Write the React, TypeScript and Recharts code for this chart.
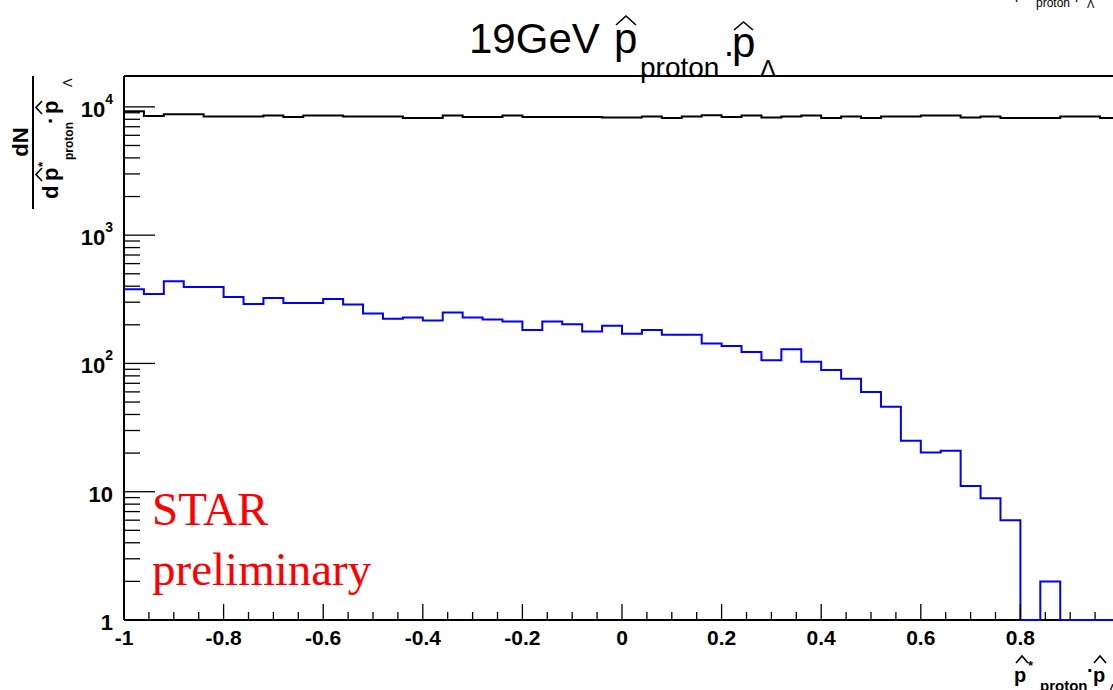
import React from 'react';
import { LineChart, Line, XAxis, YAxis, CartesianGrid } from 'recharts';

// histogram binning: 50 bins of 0.04 from -1 to 1
const X_MIN = -1;
const X_MAX = 1;
const BIN_WIDTH = 0.04;

// counts per bin (log scale)
const allCounts = [
  9250, 8500, 8770, 8770, 8400, 8400, 8400, 8550, 8350, 8550,
  8550, 8400, 8400, 8400, 8200, 8200, 8550, 8350, 8350, 8550,
  8350, 8350, 8350, 8350, 8250, 8250, 8400, 8200, 8400, 8620,
  8350, 8550, 8260, 8400, 8550, 8200, 8400, 8200, 8400, 8400,
  8550, 8550, 8260, 8400, 8200, 8200, 8200, 8400, 8400, 8200,
];

const selectedCounts = [
  379, 348, 438, 395, 395, 330, 291, 324, 296, 296,
  318, 288, 245, 223, 228, 216, 249, 228, 220, 212,
  182, 212, 202, 177, 197, 170, 182, 167, 167, 143,
  137, 123, 106, 129, 103, 89, 76, 60, 46, 25,
  20.2, 20.9, 11.1, 8.9, 6.0, 1, 2, 1, 1, 1,
];

const xMajorValues = [-1, -0.8, -0.6, -0.4, -0.2, 0, 0.2, 0.4, 0.6, 0.8, 1];
const xMajorLabels = ['-1', '-0.8', '-0.6', '-0.4', '-0.2', '0', '0.2', '0.4', '0.6', '0.8', '1'];
const xMinorStep = 0.05;

const yDecades = [1, 10, 100, 1000, 10000];
const yDecadeExp = ['', '', '2', '3', '4'];
const yDecadeBase = ['1', '10', '10', '10', '10'];
const Y_MIN = 1;
const Y_TOP = 17400;

const round = (v: number) => Math.round(v * 1000) / 1000;

const data = allCounts.map((c, i) => ({
  x: round(X_MIN + i * BIN_WIDTH),
  all: c,
  sel: selectedCounts[i],
}));
// closing point so the last step reaches the right edge
data.push({ x: X_MAX, all: allCounts[allCounts.length - 1], sel: selectedCounts[selectedCounts.length - 1] });

const xTicks: number[] = [];
for (let i = 0; i <= Math.round((X_MAX - X_MIN) / xMinorStep); i++) xTicks.push(round(X_MIN + i * xMinorStep));

const yTicks: number[] = [];
yDecades.forEach((d) => {
  if (d === 10000) {
    yTicks.push(d);
    return;
  }
  for (let m = 1; m <= 9; m++) yTicks.push(m * d);
});

const SANS = '"Liberation Sans", Arial, Helvetica, sans-serif';
const SERIF = '"Liberation Serif", "Times New Roman", serif';

const renderXTick = (props: any) => {
  const { x, y, payload } = props;
  const idx = xMajorValues.findIndex((m) => Math.abs(m - payload.value) < 1e-6);
  const major = idx >= 0;
  return (
    <g>
      <line x1={x} x2={x} y1={y} y2={y - (major ? 16 : 8)} stroke="#000" strokeWidth={1.3} />
      {major && (
        <text x={x} y={y + 25} textAnchor="middle" fontFamily={SANS} fontWeight="bold" fontSize={21} fill="#000">
          {xMajorLabels[idx]}
        </text>
      )}
    </g>
  );
};

const renderYTick = (props: any) => {
  const { x, y, payload } = props;
  const idx = yDecades.indexOf(payload.value);
  const major = idx >= 0;
  return (
    <g>
      <line x1={x} x2={x + (major ? 31 : 16)} y1={y} y2={y} stroke="#000" strokeWidth={1.3} />
      {major && (
        <text x={x - 11} y={y + 10} textAnchor="end" fontFamily={SANS} fontWeight="bold" fontSize={22} fill="#000">
          {yDecadeBase[idx]}
          {yDecadeExp[idx] && (
            <tspan dy={-13} fontSize={14}>
              {yDecadeExp[idx]}
            </tspan>
          )}
        </text>
      )}
    </g>
  );
};

const Hat = ({ x, y, w, h }: { x: number; y: number; w: number; h: number }) => (
  <path d={`M${x},${y} L${x + w / 2},${y - h} L${x + w},${y}`} fill="none" stroke="#000" strokeWidth={1.6} />
);

function Overlay() {
  return (
    <svg width={1113} height={690} style={{ position: 'absolute', left: 0, top: 0, pointerEvents: 'none' }}>
      {/* title */}
      <g fontFamily={SANS} fill="#000">
        <text x={469} y={53} fontSize={42}>19GeV</text>
        <text x={614} y={53} fontSize={42}>p</text>
        <Hat x={616} y={25} w={20} h={9} />
        <text x={640} y={77} fontSize={28}>proton</text>
        <text x={723} y={64} fontSize={36}>·</text>
        <text x={732} y={57} fontSize={42}>p</text>
        <Hat x={734} y={30} w={19} h={8} />
        <text x={760} y={77} fontSize={24}>Λ</text>
      </g>

      {/* clipped label at top right */}
      <g fontFamily={SANS} fill="#000">
        <text x={1015} y={-1} fontSize={14}>p</text>
        <text x={1036} y={7} fontSize={12}>proton</text>
        <text x={1075} y={-1} fontSize={14}>p</text>
        <text x={1087} y={8} fontSize={11}>Λ</text>
      </g>

      {/* y axis title */}
      <g transform="rotate(-90)" fontFamily={SANS} fontWeight="bold" fill="#000">
        <text x={-142} y={28} fontSize={22} textAnchor="middle">dN</text>
        <text x={-199} y={58} fontSize={22}>d</text>
        <text x={-181} y={58} fontSize={22}>p</text>
        <text x={-167} y={47} fontSize={13}>*</text>
        <text x={-160} y={73} fontSize={12}>proton</text>
        <text x={-124} y={58} fontSize={22}>·</text>
        <text x={-114} y={58} fontSize={22}>p</text>
        <text x={-87} y={72} fontSize={13} fontWeight="normal">Λ</text>
      </g>
      <g transform="rotate(-90)">
        <Hat x={-181} y={42} w={13} h={6} />
        <Hat x={-114} y={42} w={13} h={6} />
      </g>
      <line x1={33} x2={33} y1={76} y2={209} stroke="#000" strokeWidth={2} />

      {/* x axis title */}
      <g fontFamily={SANS} fontWeight="bold" fill="#000">
        <text x={1014} y={682} fontSize={20}>p</text>
        <Hat x={1016} y={663} w={12} h={7} />
        <text x={1028} y={670} fontSize={13}>*</text>
        <text x={1040} y={691} fontSize={15}>proton</text>
        <text x={1087} y={677} fontSize={20}>·</text>
        <text x={1093} y={682} fontSize={20}>p</text>
        <Hat x={1094} y={663} w={12} h={7} />
        <text x={1108} y={694} fontSize={15} fontWeight="normal">Λ</text>
      </g>

      {/* STAR preliminary */}
      <g fontFamily={SERIF} fill="#ff0000" fontSize={47}>
        <text x={152} y={525}>STAR</text>
        <text x={152} y={585}>preliminary</text>
      </g>
    </svg>
  );
}

export default function App() {
  return (
    <div
      style={{
        position: 'absolute',
        left: 0,
        top: 0,
        width: 1113,
        height: 690,
        overflow: 'hidden',
        background: '#fff',
      }}
    >
      <LineChart width={1150} height={690} data={data} margin={{ top: 46, right: 10, bottom: 40, left: 64 }}>
        {/* bottom frame line drawn as a grid line so the histogram sits on top of it */}
        <CartesianGrid
          xAxisId="bottom"
          yAxisId="left"
          vertical={false}
          horizontalValues={[Y_MIN]}
          stroke="#000"
          strokeWidth={2}
          strokeDasharray=""
        />
        <XAxis
          xAxisId="bottom"
          dataKey="x"
          type="number"
          domain={[X_MIN, X_MAX]}
          ticks={xTicks}
          interval={0}
          tickSize={0}
          tickMargin={0}
          tickLine={false}
          tick={renderXTick}
          height={30}
          axisLine={false}
        />
        <XAxis
          xAxisId="top"
          orientation="top"
          dataKey="x"
          type="number"
          domain={[X_MIN, X_MAX]}
          tick={false}
          tickLine={false}
          height={30}
          axisLine={{ stroke: '#000', strokeWidth: 2 }}
        />
        <YAxis
          yAxisId="left"
          type="number"
          scale="log"
          domain={[Y_MIN, Y_TOP]}
          ticks={yTicks}
          interval={0}
          tickSize={0}
          tickMargin={0}
          tickLine={false}
          tick={renderYTick}
          width={60}
          axisLine={{ stroke: '#000', strokeWidth: 2 }}
        />
        <YAxis
          yAxisId="right"
          orientation="right"
          type="number"
          scale="log"
          domain={[Y_MIN, Y_TOP]}
          tick={false}
          tickLine={false}
          width={20}
          axisLine={{ stroke: '#000', strokeWidth: 2 }}
        />
        <Line
          xAxisId="bottom"
          yAxisId="left"
          type="stepAfter"
          dataKey="all"
          stroke="#000"
          strokeWidth={2}
          dot={false}
          isAnimationActive={false}
        />
        <Line
          xAxisId="bottom"
          yAxisId="left"
          type="stepAfter"
          dataKey="sel"
          stroke="#0000ff"
          strokeWidth={2}
          dot={false}
          isAnimationActive={false}
        />
      </LineChart>
      <Overlay />
    </div>
  );
}
